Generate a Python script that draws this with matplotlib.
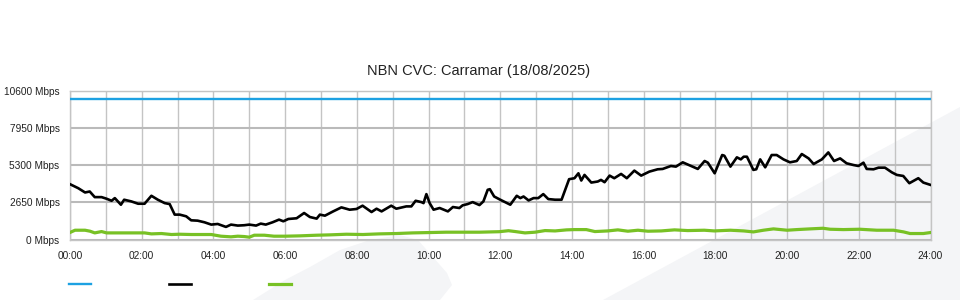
import matplotlib
matplotlib.use('Agg')
import matplotlib.pyplot as plt
from matplotlib.patches import Polygon

plt.rcParams['font.family'] = ['Liberation Sans', 'DejaVu Sans']

# capacity line (Mbps)
cap_hours = [0, 24]
cap_mbps = [10000, 10000]

# traffic (black)
black_hours = [0.0, 0.23, 0.42, 0.55, 0.69, 0.88, 1.02, 1.16, 1.25, 1.42, 1.51, 1.71, 1.9, 2.08,
               2.27, 2.45, 2.64, 2.78, 2.92, 3.06, 3.24, 3.38, 3.56, 3.75, 3.94, 4.12, 4.35, 4.49,
               4.68, 4.86, 5.0, 5.19, 5.32, 5.46, 5.65, 5.83, 5.95, 6.09, 6.32, 6.53, 6.69, 6.88,
               6.97, 7.11, 7.34, 7.57, 7.8, 7.99, 8.16, 8.41, 8.55, 8.69, 8.96, 9.1, 9.38, 9.52,
               9.64, 9.8, 9.86, 9.94, 10.03, 10.14, 10.31, 10.54, 10.68, 10.86, 10.95, 11.09, 11.23,
               11.42, 11.53, 11.65, 11.71, 11.83, 12.0, 12.28, 12.46, 12.56, 12.65, 12.79, 12.93,
               13.06, 13.2, 13.34, 13.53, 13.71, 13.92, 14.07, 14.18, 14.26, 14.35, 14.54, 14.72,
               14.81, 14.91, 15.05, 15.18, 15.37, 15.53, 15.74, 15.93, 16.16, 16.39, 16.53, 16.76,
               16.9, 17.09, 17.32, 17.51, 17.7, 17.79, 17.98, 18.19, 18.25, 18.42, 18.6, 18.71,
               18.79, 18.88, 19.06, 19.14, 19.25, 19.39, 19.57, 19.71, 19.9, 20.08, 20.27, 20.41,
               20.6, 20.74, 20.97, 21.15, 21.31, 21.48, 21.66, 21.85, 21.99, 22.13, 22.22, 22.41,
               22.55, 22.73, 22.92, 23.06, 23.24, 23.41, 23.66, 23.8, 24.0]
black_mbps = [3935, 3650, 3345, 3415, 3015, 3015, 2900, 2755, 2945, 2475, 2830, 2710, 2545, 2545,
              3110, 2830, 2590, 2520, 1770, 1770, 1650, 1365, 1340, 1225, 1060, 1105, 895, 1060,
              990, 1015, 1060, 990, 1130, 1060, 1225, 1415, 1295, 1460, 1510, 1885, 1600, 1485,
              1770, 1695, 2000, 2285, 2120, 2170, 2405, 1955, 2190, 2000, 2405, 2190, 2355, 2355,
              2755, 2660, 2590, 3230, 2590, 2120, 2240, 2000, 2310, 2240, 2430, 2520, 2660,
              2450, 2710, 3535, 3580, 3060, 2830, 2475, 3110, 2945, 3060, 2780, 2945,
              2945, 3230, 2875, 2830, 2830, 4290, 4360, 4710, 4195, 4595, 4050, 4125,
              4240, 4075, 4545, 4360, 4665, 4360, 4900, 4545, 4830, 4995, 5020, 5230,
              5185, 5490, 5230, 5020, 5585, 5465, 4710, 6010, 5960, 5185, 5845, 5700,
              5890, 5890, 4950, 4995, 5700, 5135, 6010, 6010, 5700, 5490, 5585, 6080,
              5770, 5370, 5700, 6195, 5585, 5770, 5420, 5300, 5230, 5465, 5020, 4995,
              5110, 5110, 4780, 4595, 4520, 4005, 4360, 4050, 3885]

# green series
green_hours = [0.0, 0.14, 0.42, 0.56, 0.69, 0.88, 1.02, 1.5, 2.08, 2.27, 2.55, 2.83, 3.06, 3.38,
               3.94, 4.21, 4.49, 4.68, 4.86, 5.0, 5.14, 5.42, 5.69, 6.0, 6.42, 6.88, 7.25, 7.71,
               8.17, 8.63, 9.1, 9.56, 10.03, 10.49, 10.95, 11.42, 11.97, 12.23, 12.42, 12.69, 12.97,
               13.25, 13.53, 13.85, 14.07, 14.4, 14.64, 15.0, 15.28, 15.56, 15.84, 16.12, 16.49,
               16.86, 17.23, 17.69, 17.97, 18.42, 18.79, 19.06, 19.34, 19.62, 20.0, 20.27, 20.64,
               21.0, 21.2, 21.57, 22.03, 22.5, 22.97, 23.25, 23.43, 23.8, 24.0]
green_mbps = [500, 660, 660, 590, 470, 565, 470, 470, 470, 400, 425, 355, 375, 355,
              355, 235, 190, 235, 210, 165, 305, 305, 235, 235, 260, 305, 330, 375,
              355, 400, 425, 470, 495, 520, 520, 520, 555, 625, 565, 470, 520,
              635, 610, 685, 705, 705, 565, 610, 685, 590, 660, 590, 610,
              685, 635, 660, 610, 660, 610, 540, 660, 755, 660, 705, 755,
              800, 730, 705, 730, 660, 660, 540, 425, 425, 495]

y_ticks = [0, 2650, 5300, 7950, 10600]
x_ticks = list(range(0, 25, 2))
x_labels = ['%02d:00' % h for h in x_ticks]

W, H = 960, 300
fig = plt.figure(figsize=(9.6, 3.0), dpi=100, facecolor='white')

# faint watermark shapes behind the chart
wm = '#f4f5f7'
band = [(603, 300), (960, 107), (960, 300)]
fin = [(253, 300), (285, 280), (310, 267), (340, 250), (370, 240), (400, 235),
       (418, 240), (447, 273), (452, 285), (440, 300)]
for shape in (band, fin):
    pts = [(x / W, 1 - y / H) for x, y in shape]
    fig.patches.append(Polygon(pts, closed=True, transform=fig.transFigure,
                               facecolor=wm, edgecolor='none', zorder=-5))

ax = fig.add_axes([70 / W, 1 - 239.5 / H, 860.5 / W, 149 / H])
ax.set_facecolor('none')

l1, = ax.plot(cap_hours, cap_mbps, color='#1da1e2', lw=1.7, zorder=3)
l2, = ax.plot(black_hours, black_mbps, color='black', lw=1.9, zorder=3)
l3, = ax.plot(green_hours, green_mbps, color='#78c125', lw=2.3, zorder=3)

ax.set_xlim(0, 24)
ax.set_ylim(0, 10600)
ax.set_xticks(x_ticks)
ax.set_xticklabels(x_labels)
ax.set_xticks(range(0, 25), minor=True)
ax.set_yticks(y_ticks)
ax.set_yticklabels(['%d Mbps' % v for v in y_ticks])
ax.tick_params(axis='both', which='both', length=0, labelsize=7.3, colors='#222222')
ax.tick_params(axis='y', pad=7.5)
ax.tick_params(axis='x', pad=8)

ax.grid(True, which='both', axis='x', color='#c4c4c4', lw=1)
ax.grid(True, axis='y', color='#bababa', lw=1.5)
ax.set_axisbelow(True)
for s in ax.spines.values():
    s.set_color('#c4c4c4')
    s.set_linewidth(1)

fig.text(0.498, 1 - 71 / H, 'NBN CVC: Carramar (18/08/2025)', ha='center', va='center',
         fontsize=10.5, color='#222222')

fs = 7.3
em = fs * 100 / 72
fig.legend([l1, l2, l3], ['', '', ''], ncol=3, loc='center left',
           bbox_to_anchor=(69 / W, 1 - 285 / H), frameon=False, borderpad=0,
           borderaxespad=0, handlelength=22 / em, handletextpad=0,
           columnspacing=78 / em, fontsize=fs)

fig.savefig('out.png', dpi=100, facecolor='white')
